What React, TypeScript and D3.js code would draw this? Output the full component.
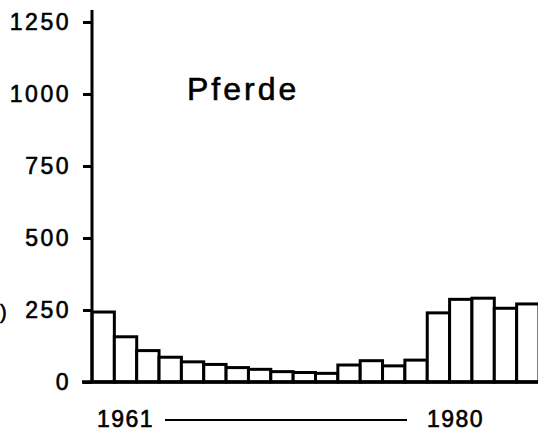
import { useEffect, useRef } from 'react'
import * as d3 from 'd3'

// Pferde, Bestand 1961–1980
const YEARS = d3.range(1961, 1981).map(String)
const VALUES = [243, 157, 109, 86, 70, 61, 50, 44, 36, 33, 30, 59, 74, 56, 76, 240, 287, 291, 256, 271]
const Y_TICKS = [0, 250, 500, 750, 1000, 1250]
const TITLE = 'Pferde'
const X_LABELS = ['1961', '1980']

const W = 538
const H = 440
const FONT = '"Liberation Sans", Arial, Helvetica, sans-serif'

export default function App() {
  const svgRef = useRef<SVGSVGElement | null>(null)

  useEffect(() => {
    if (!svgRef.current) return
    const svg = d3.select(svgRef.current)
    svg.selectAll('*').remove()

    const x = d3.scaleBand().domain(YEARS).range([92, 539]).paddingInner(0).paddingOuter(0)
    const y = d3.scaleLinear().domain([0, 1250]).range([382, 22])

    // Bars
    svg.append('g')
      .selectAll('rect')
      .data(VALUES)
      .join('rect')
      .attr('x', (_, i) => x(YEARS[i])!)
      .attr('y', d => y(d))
      .attr('width', x.bandwidth())
      .attr('height', d => y(0) - y(d))
      .attr('fill', '#fff')
      .attr('stroke', '#000')
      .attr('stroke-width', 3)

    // Y axis
    svg.append('g')
      .attr('transform', `translate(${x.range()[0]},0)`)
      .call(d3.axisLeft(y).tickValues(Y_TICKS).tickFormat(d3.format('d')).tickSize(9).tickPadding(12))
      .call(ax => ax.select('.domain').remove())
      .call(ax => ax.selectAll('.tick line').attr('stroke', '#000').attr('stroke-width', 3))
      .call(ax => ax.selectAll('text')
        .attr('fill', '#000')
        .attr('stroke', '#000')
        .attr('stroke-width', 0.6)
        .attr('font-family', FONT)
        .attr('font-size', 23)
        .attr('letter-spacing', 2.5))

    // axis line + baseline
    svg.append('line')
      .attr('x1', x.range()[0]).attr('x2', x.range()[0])
      .attr('y1', 10).attr('y2', y(0))
      .attr('stroke', '#000').attr('stroke-width', 3)
    svg.append('line')
      .attr('x1', 82).attr('x2', W)
      .attr('y1', y(0)).attr('y2', y(0))
      .attr('stroke', '#000').attr('stroke-width', 3.5)

    const label = (tx: number, ty: number, s: string, size: number, ls: number) =>
      svg.append('text')
        .attr('x', tx).attr('y', ty)
        .attr('font-family', FONT).attr('font-size', size)
        .attr('letter-spacing', ls)
        .attr('fill', '#000').attr('stroke', '#000').attr('stroke-width', 0.6)
        .text(s)

    // Title
    label(187, 100, TITLE, 32, 3)

    // X labels with connecting line
    label(97, 427, X_LABELS[0], 23, 1.5)
    label(427, 427, X_LABELS[1], 23, 1.5)
    svg.append('line')
      .attr('x1', 165).attr('x2', 407)
      .attr('y1', 420).attr('y2', 420)
      .attr('stroke', '#000').attr('stroke-width', 2)

    // fragment of a label at the left edge
    label(0, 319, ')', 20, 0)
  }, [])

  return (
    <svg
      ref={svgRef}
      width={W}
      height={H}
      style={{ display: 'block', position: 'absolute', left: 0, top: 0, background: '#fff' }}
    />
  )
}
